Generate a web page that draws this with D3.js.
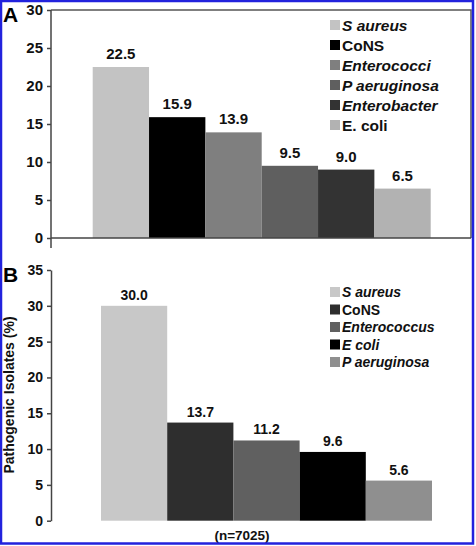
<!DOCTYPE html>
<html>
<head>
<meta charset="utf-8">
<script src="https://cdn.jsdelivr.net/npm/d3@7"></script>
<style>
  body { margin: 0; background: #fff; }
  svg { display: block; }
  svg text { font-family: "Liberation Sans", Arial, sans-serif; font-weight: bold; }
</style>
</head>
<body>
<script>
var w = 476;
var h = 546;

// panel A data
var namesA = ["S aureus", "CoNS", "Enterococci", "P aeruginosa", "Enterobacter", "E. coli"];
var valuesA = [22.5, 15.9, 13.9, 9.5, 9.0, 6.5];
var italicA = [true, false, true, true, true, false];
var ticksA = [0, 5, 10, 15, 20, 25, 30];

// panel B data
var namesB = ["S aureus", "CoNS", "Enterococcus", "E coli", "P aeruginosa"];
var valuesB = [30.0, 13.7, 11.2, 9.6, 5.6];
var italicB = [true, false, true, true, true];
var ticksB = [0, 5, 10, 15, 20, 25, 30, 35];

var colorsA = ["#c3c3c3", "#000000", "#7f7f7f", "#5f5f5f", "#333333", "#b2b2b2"];
var colorsB = ["#c8c8c8", "#2e2e2e", "#606060", "#000000", "#8f8f8f"];

var fmt = d3.format(".1f");

var svg = d3.select("body")
    .append("svg")
    .attr("width", w)
    .attr("height", h);

// ---------- panel A ----------
var yA = d3.scaleLinear().domain([0, 30]).range([238, 10]);
var xA = d3.scaleBand().domain(namesA).range([92.7, 430.7]);

// plot box (top + right)
svg.append("path")
    .attr("d", "M51,10H471V238")
    .attr("fill", "none")
    .attr("stroke", "#555")
    .attr("stroke-width", 1.5);

svg.append("g")
    .selectAll("rect")
    .data(valuesA)
    .enter().append("rect")
    .attr("x", function(d, i) { return xA(namesA[i]); })
    .attr("y", function(d) { return yA(d); })
    .attr("width", xA.bandwidth())
    .attr("height", function(d) { return yA(0) - yA(d); })
    .attr("fill", function(d, i) { return colorsA[i]; });

svg.append("g")
    .selectAll("text")
    .data(valuesA)
    .enter().append("text")
    .attr("x", function(d, i) { return xA(namesA[i]) + xA.bandwidth() / 2; })
    .attr("y", function(d) { return yA(d) - 8; })
    .attr("text-anchor", "middle")
    .attr("font-size", 15)
    .attr("fill", "#111")
    .text(function(d) { return fmt(d); });

// x baseline + extended y axis line
svg.append("line")
    .attr("x1", 51).attr("x2", 471)
    .attr("y1", yA(0)).attr("y2", yA(0))
    .attr("stroke", "#444").attr("stroke-width", 1.5);

var axA = svg.append("g")
    .attr("transform", "translate(51,0)")
    .call(d3.axisLeft(yA).tickValues(ticksA).tickSize(4).tickSizeOuter(0).tickPadding(4))
    .attr("font-family", null);
axA.select(".domain").remove();
axA.selectAll("line").attr("stroke", "#444").attr("stroke-width", 1.5);
axA.selectAll("text").attr("font-size", 15).attr("fill", "#111");

svg.append("line")
    .attr("x1", 51).attr("x2", 51)
    .attr("y1", 10).attr("y2", 248)
    .attr("stroke", "#444").attr("stroke-width", 1.5);

// legend A
var legA = svg.append("g")
    .selectAll("g")
    .data(namesA)
    .enter().append("g")
    .attr("transform", function(d, i) { return "translate(330," + (25 + i * 20) + ")"; });
legA.append("rect")
    .attr("x", 0).attr("y", -5)
    .attr("width", 10).attr("height", 10)
    .attr("fill", function(d, i) { return colorsA[i]; });
legA.append("text")
    .attr("x", 12).attr("y", 5.5)
    .attr("font-size", 15.5)
    .attr("font-style", function(d, i) { return italicA[i] ? "italic" : "normal"; })
    .attr("fill", "#111")
    .text(function(d) { return d; });

svg.append("text")
    .attr("x", 3).attr("y", 22)
    .attr("font-size", 21)
    .attr("fill", "#000")
    .text("A");

// ---------- panel B ----------
var yB = d3.scaleLinear().domain([0, 35]).range([520.7, 270]);
var xB = d3.scaleBand().domain(namesB).range([101, 432]);

svg.append("g")
    .selectAll("rect")
    .data(valuesB)
    .enter().append("rect")
    .attr("x", function(d, i) { return xB(namesB[i]); })
    .attr("y", function(d) { return yB(d); })
    .attr("width", xB.bandwidth())
    .attr("height", function(d) { return yB(0) - yB(d); })
    .attr("fill", function(d, i) { return colorsB[i]; });

svg.append("g")
    .selectAll("text")
    .data(valuesB)
    .enter().append("text")
    .attr("x", function(d, i) { return xB(namesB[i]) + xB.bandwidth() / 2; })
    .attr("y", function(d) { return yB(d) - 6; })
    .attr("text-anchor", "middle")
    .attr("font-size", 14)
    .attr("fill", "#111")
    .text(function(d) { return fmt(d); });

var axB = svg.append("g")
    .attr("transform", "translate(51,0)")
    .call(d3.axisLeft(yB).tickValues(ticksB).tickSize(4).tickSizeOuter(0).tickPadding(4))
    .attr("font-family", null);
axB.select(".domain").attr("stroke", "#444").attr("stroke-width", 1.5);
axB.selectAll("line").attr("stroke", "#444").attr("stroke-width", 1.5);
axB.selectAll("text").attr("font-size", 14).attr("fill", "#111");

svg.append("text")
    .attr("transform", "translate(14,395) rotate(-90)")
    .attr("text-anchor", "middle")
    .attr("font-size", 14)
    .attr("fill", "#111")
    .text("Pathogenic Isolates (%)");

svg.append("text")
    .attr("x", 242).attr("y", 540)
    .attr("text-anchor", "middle")
    .attr("font-size", 13.5)
    .attr("fill", "#111")
    .text("(n=7025)");

// legend B
var legB = svg.append("g")
    .selectAll("g")
    .data(namesB)
    .enter().append("g")
    .attr("transform", function(d, i) { return "translate(330," + (292 + i * 17.5) + ")"; });
legB.append("rect")
    .attr("x", 0).attr("y", -5)
    .attr("width", 10).attr("height", 10)
    .attr("fill", function(d, i) { return colorsB[i]; });
legB.append("text")
    .attr("x", 12).attr("y", 5)
    .attr("font-size", 14)
    .attr("font-style", function(d, i) { return italicB[i] ? "italic" : "normal"; })
    .attr("fill", "#111")
    .text(function(d) { return d; });

svg.append("text")
    .attr("x", 3).attr("y", 282)
    .attr("font-size", 21)
    .attr("fill", "#000")
    .text("B");

// blue frame
svg.append("rect")
    .attr("x", 1).attr("y", 1)
    .attr("width", 472).attr("height", 542.5)
    .attr("fill", "none")
    .attr("stroke", "#2222dd")
    .attr("stroke-width", 2.5);
</script>
</body>
</html>
